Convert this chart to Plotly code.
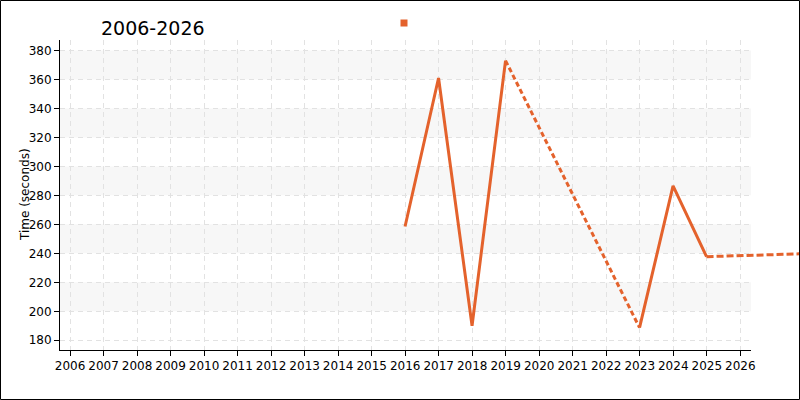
import plotly.graph_objects as go

# lap times per year (seconds), gaps are bridged with dashed lines
years = [2016, 2017, 2018, 2019, 2023, 2024, 2025]
times = [258.5, 361, 190, 373, 188.7, 286.5, 237.7]
proj_year = [2025, 2028]
proj_time = [237.7, 239.8]

tick_years = list(range(2006, 2027))
band_lo = [200, 240, 280, 320, 360]

color = "#e4622c"
font = "DejaVu Sans"

fig = go.Figure()

# solid runs of consecutive years, dashed across missing years
seg_solid = [(0, 4), (4, 7)]
for a, b in seg_solid:
    fig.add_trace(go.Scatter(x=years[a:b], y=times[a:b], mode="lines",
                             line=dict(color=color, width=3),
                             xaxis="x2", yaxis="y2", showlegend=False))
fig.add_trace(go.Scatter(x=years[3:5], y=times[3:5], mode="lines",
                         line=dict(color=color, width=3, dash="5px,3px"),
                         xaxis="x2", yaxis="y2", showlegend=False))
fig.add_trace(go.Scatter(x=proj_year, y=proj_time, mode="lines",
                         line=dict(color=color, width=3, dash="7px,3px"),
                         xaxis="x2", yaxis="y2", showlegend=False))
# legend swatch
fig.add_trace(go.Scatter(x=[None], y=[None], mode="markers", name="",
                         marker=dict(symbol="square", size=7, color=color)))

shapes = []
for lo in band_lo:
    shapes.append(dict(type="rect", xref="x", yref="y", x0=2005.70, x1=2026.32,
                       y0=lo, y1=lo + 20, fillcolor="#f7f7f7",
                       line=dict(width=0), layer="below"))
shapes.append(dict(type="rect", xref="paper", yref="paper",
                   x0=(0.5 - 60) / 739, x1=(799.5 - 60) / 739,
                   y0=(350 - 399.5) / 310, y1=(350 - 0.5) / 310,
                   line=dict(color="black", width=1)))

fig.update_layout(
    width=800, height=400,
    margin=dict(l=60, r=1, t=40, b=50, autoexpand=False),
    paper_bgcolor="white", plot_bgcolor="rgba(0,0,0,0)",
    font=dict(family=font, size=12, color="black"),
    title=dict(text="2006-2026", x=101 / 800, xanchor="left", xref="container",
               y=1 - 28 / 400, yanchor="middle", yref="container",
               font=dict(size=19)),
    showlegend=True,
    legend=dict(x=(405 - 21 - 60) / 739, xanchor="left", y=(350 - 23) / 310,
                yanchor="middle", bgcolor="rgba(0,0,0,0)"),
    xaxis=dict(domain=[0, 691 / 739], range=[2005.70, 2026.32],
               tickvals=tick_years, tickangle=0, showline=True, linecolor="black",
               ticks="outside", ticklen=5, tickcolor="black",
               showgrid=True, gridcolor="#e2e2e2", griddash="5px,4px",
               zeroline=False, automargin=False),
    yaxis=dict(range=[173.3, 387.2], tickvals=list(range(180, 381, 20)),
               showline=True, linecolor="black", ticks="outside", ticklen=5,
               tickcolor="black", showgrid=True, gridcolor="#e2e2e2",
               griddash="5px,4px", zeroline=False, automargin=False),
    xaxis2=dict(domain=[0, 1], range=[2005.70, 2005.70 + 739 / 33.5],
                anchor="y2", visible=False),
    yaxis2=dict(range=[173.3, 387.2], anchor="x2", visible=False),
    shapes=shapes,
    annotations=[dict(text="Time (seconds)", textangle=-90, showarrow=False,
                      xref="paper", yref="paper", x=(25 - 60) / 739,
                      y=(350 - 195) / 310, xanchor="center", yanchor="middle",
                      font=dict(size=12))],
)

fig.write_html("out.html", config={"displayModeBar": False},
               post_script="document.body.style.margin='0px';")
